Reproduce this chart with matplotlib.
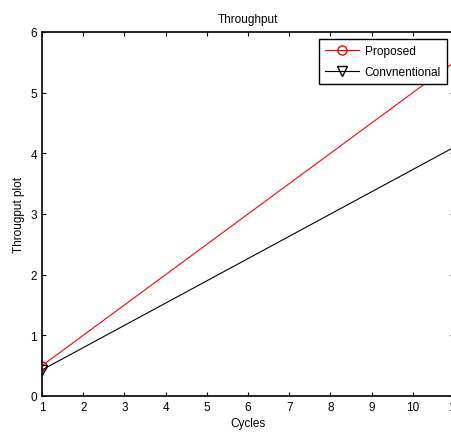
import matplotlib
matplotlib.use('Agg')
import matplotlib.pyplot as plt
import numpy as np

cycles = [1, 11]
proposed = [0.5, 5.5]
conventional = [0.43, 4.1]

plt.rcParams['font.family'] = ['Liberation Sans', 'DejaVu Sans']
plt.rcParams['font.size'] = 8.5

fig = plt.figure(figsize=(4.51, 4.35), dpi=100)
# axes runs a little past the right edge of the figure
ax = fig.add_axes([42/451, 38/435, 412/451, 364/435])

ax.plot(cycles, proposed, color='red', linewidth=0.8, marker='o', markersize=6.5,
        markerfacecolor='none', markevery=[0], label='Proposed')
ax.plot(cycles, conventional, color='black', linewidth=0.8, marker='v', markersize=6.5,
        markerfacecolor='none', markevery=[0], label='Convnentional')

ax.set_xlim(1, 11)
ax.set_ylim(0, 6)
ax.set_xticks(np.arange(1, 12))
ax.set_yticks(np.arange(0, 7))
ax.tick_params(direction='in', top=True, right=True, length=3, width=0.8, labelsize=8.5)
for s in ax.spines.values():
    s.set_linewidth(1.2)

ax.set_title('Throughput', fontsize=8.5, pad=7)
ax.set_xlabel('Cycles', fontsize=8.5, labelpad=3)
ax.set_ylabel('Througput plot', fontsize=8.5, labelpad=4)

leg = ax.legend(loc='upper right', bbox_to_anchor=(0.9825, 0.98), fancybox=False,
                framealpha=1, edgecolor='black', borderaxespad=0, handlelength=2.8,
                handletextpad=0.5, borderpad=0.5, labelspacing=0.75, fontsize=8.6)
leg.get_frame().set_linewidth(1.0)

plt.savefig('out.png', dpi=100)
